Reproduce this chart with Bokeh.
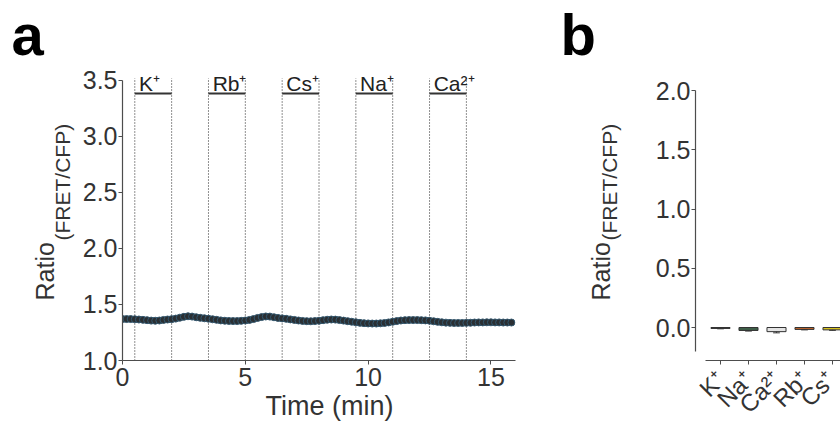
import numpy as np
from bokeh.plotting import figure
from bokeh.layouts import row
from bokeh.models import Range1d, FixedTicker, NumeralTickFormatter, Title
from bokeh.core.properties import value
from bokeh.embed import file_html
from bokeh.resources import INLINE

FONT = "Liberation Sans"

# ---------------- panel a data ----------------
TIME = [round(i / 6, 4) for i in range(96)]
RATIO = [1.370, 1.370, 1.370, 1.368, 1.366, 1.363, 1.360, 1.356, 1.355, 1.357,
         1.362, 1.366, 1.369, 1.374, 1.382, 1.390, 1.395, 1.392, 1.386, 1.381,
         1.377, 1.373, 1.368, 1.363, 1.358, 1.355, 1.353, 1.352, 1.352, 1.354,
         1.357, 1.362, 1.370, 1.380, 1.388, 1.393, 1.392, 1.386, 1.380, 1.376,
         1.372, 1.367, 1.362, 1.357, 1.353, 1.351, 1.350, 1.352, 1.355, 1.360,
         1.364, 1.366, 1.365, 1.361, 1.356, 1.351, 1.346, 1.341, 1.336, 1.333,
         1.331, 1.330, 1.330, 1.332, 1.335, 1.340, 1.346, 1.352, 1.357, 1.360,
         1.361, 1.361, 1.361, 1.360, 1.358, 1.355, 1.350, 1.345, 1.341, 1.338,
         1.336, 1.335, 1.335, 1.335, 1.336, 1.337, 1.339, 1.340, 1.340, 1.341,
         1.341, 1.340, 1.340, 1.339, 1.339, 1.339]
ION_NAMES = ["K⁺", "Rb⁺", "Cs⁺", "Na⁺", "Ca²⁺"]
ION_START = [0.5, 3.5, 6.5, 9.5, 12.5]
ION_END = [2.0, 5.0, 8.0, 11.0, 14.0]
A_XTICKS = [0, 5, 10, 15]
A_YTICKS = [1.0, 1.5, 2.0, 2.5, 3.0, 3.5]

# ---------------- panel b data ----------------
CATS = ["K⁺", "Na⁺", "Ca²⁺", "Rb⁺", "Cs⁺"]
DELTA = [-0.008, -0.025, -0.035, -0.016, -0.020]
ERR = [0.003, 0.005, 0.010, 0.004, 0.004]
COLORS = ["#3a3a3a", "#3f5f49", "#e4e4e4", "#c8692c", "#d8c21c"]
B_YTICKS = [0.0, 0.5, 1.0, 1.5, 2.0]

TXT = "#333333"


def style(p):
    p.xgrid.visible = False
    p.ygrid.visible = False
    p.outline_line_color = None
    p.background_fill_color = "white"
    p.border_fill_color = "white"
    for ax in p.axis:
        ax.axis_line_color = "#4d4d4d"
        ax.axis_line_width = 1.2
        ax.major_tick_line_color = "#4d4d4d"
        ax.major_tick_out = 4
        ax.major_tick_in = 0
        ax.minor_tick_line_color = None
        ax.major_label_text_font = FONT
        ax.major_label_text_font_size = "25px"
        ax.major_label_text_color = TXT


def ylabel(p, sub_standoff, main_standoff):
    # subscript first (closest to the axis), then the main word
    p.add_layout(Title(text="(FRET/CFP)", align="left", offset=120, standoff=sub_standoff,
                       text_font=FONT, text_font_size="21px", text_font_style="normal",
                       text_color=TXT), "left")
    p.add_layout(Title(text="Ratio", align="left", offset=60, standoff=main_standoff,
                       text_font=FONT, text_font_size="25px", text_font_style="normal",
                       text_color=TXT), "left")


def panel_letter(p, letter, off):
    p.add_layout(Title(text=letter, align="left", offset=off, standoff=3, vertical_align="top",
                       text_font=FONT, text_font_size="58px", text_font_style="bold",
                       text_color="black"), "above")


# ---------------- panel a ----------------
pa = figure(width=540, height=430, x_range=Range1d(0, 16), y_range=Range1d(1.0, 3.589),
            output_backend="svg", toolbar_location=None,
            min_border_left=122, min_border_right=25, min_border_top=70, min_border_bottom=70)
style(pa)
pa.xaxis.ticker = FixedTicker(ticks=A_XTICKS)
pa.yaxis.ticker = FixedTicker(ticks=A_YTICKS)
pa.yaxis.formatter = NumeralTickFormatter(format="0.0")
pa.yaxis.bounds = (1.0, 3.5)
pa.yaxis.major_label_standoff = 1
pa.xaxis.major_label_standoff = 3

xs = ION_START + ION_END
pa.segment(x0=xs, y0=[1.0] * len(xs), x1=xs, y1=[3.52] * len(xs),
           line_color="#222222", line_width=1, line_dash="1 2")
pa.segment(x0=ION_START, y0=[3.384] * 5, x1=ION_END, y1=[3.384] * 5,
           line_color="#333333", line_width=2)
pa.text(x=[s + 0.17 for s in ION_START], y=[3.47] * 5, text=ION_NAMES,
        text_font=value(FONT), text_font_size="21px", text_align="left",
        text_baseline="middle", text_color="#222222")

pa.scatter(TIME, RATIO, marker="circle", size=7, fill_color="#2a2f33",
           line_color="#34586f", line_width=1)

ylabel(pa, 11, -30)
panel_letter(pa, "a", -111)
pa.add_layout(Title(text="Time (min)", align="left", offset=143, standoff=0,
                    text_font=FONT, text_font_size="27px", text_font_style="normal",
                    text_color=TXT), "below")

# ---------------- panel b ----------------
idx = list(range(len(CATS)))
pb = figure(width=300, height=430, x_range=Range1d(-0.893, 4.286), y_range=Range1d(-0.2785, 2.169),
            output_backend="svg", toolbar_location=None,
            min_border_left=155, min_border_right=0, min_border_top=70, min_border_bottom=70)
style(pb)
pb.yaxis.ticker = FixedTicker(ticks=B_YTICKS)
pb.yaxis.formatter = NumeralTickFormatter(format="0.0")
pb.yaxis.bounds = (-0.2, 2.0)
pb.yaxis.major_label_standoff = 1
pb.xaxis.ticker = FixedTicker(ticks=idx)
pb.xaxis.major_label_overrides = {i: c for i, c in zip(idx, CATS)}
pb.xaxis.major_label_orientation = np.pi / 4
pb.xaxis.major_label_text_font_size = "24px"
pb.xaxis.bounds = (-0.536, 4.286)
pb.xaxis.major_label_standoff = 11

pb.vbar(x=idx, top=DELTA, bottom=0, width=0.68, fill_color=COLORS,
        line_color="#333333", line_width=1)
lows = [d - e for d, e in zip(DELTA, ERR)]
pb.segment(x0=idx, y0=DELTA, x1=idx, y1=lows, line_color="#333333", line_width=1)
pb.segment(x0=[i - 0.12 for i in idx], y0=lows, x1=[i + 0.12 for i in idx], y1=lows,
           line_color="#333333", line_width=1)

ylabel(pb, 63, -100)
panel_letter(pb, "b", -135)

layout = row(pa, pb)
open("out.html", "w").write(file_html(layout, INLINE))
